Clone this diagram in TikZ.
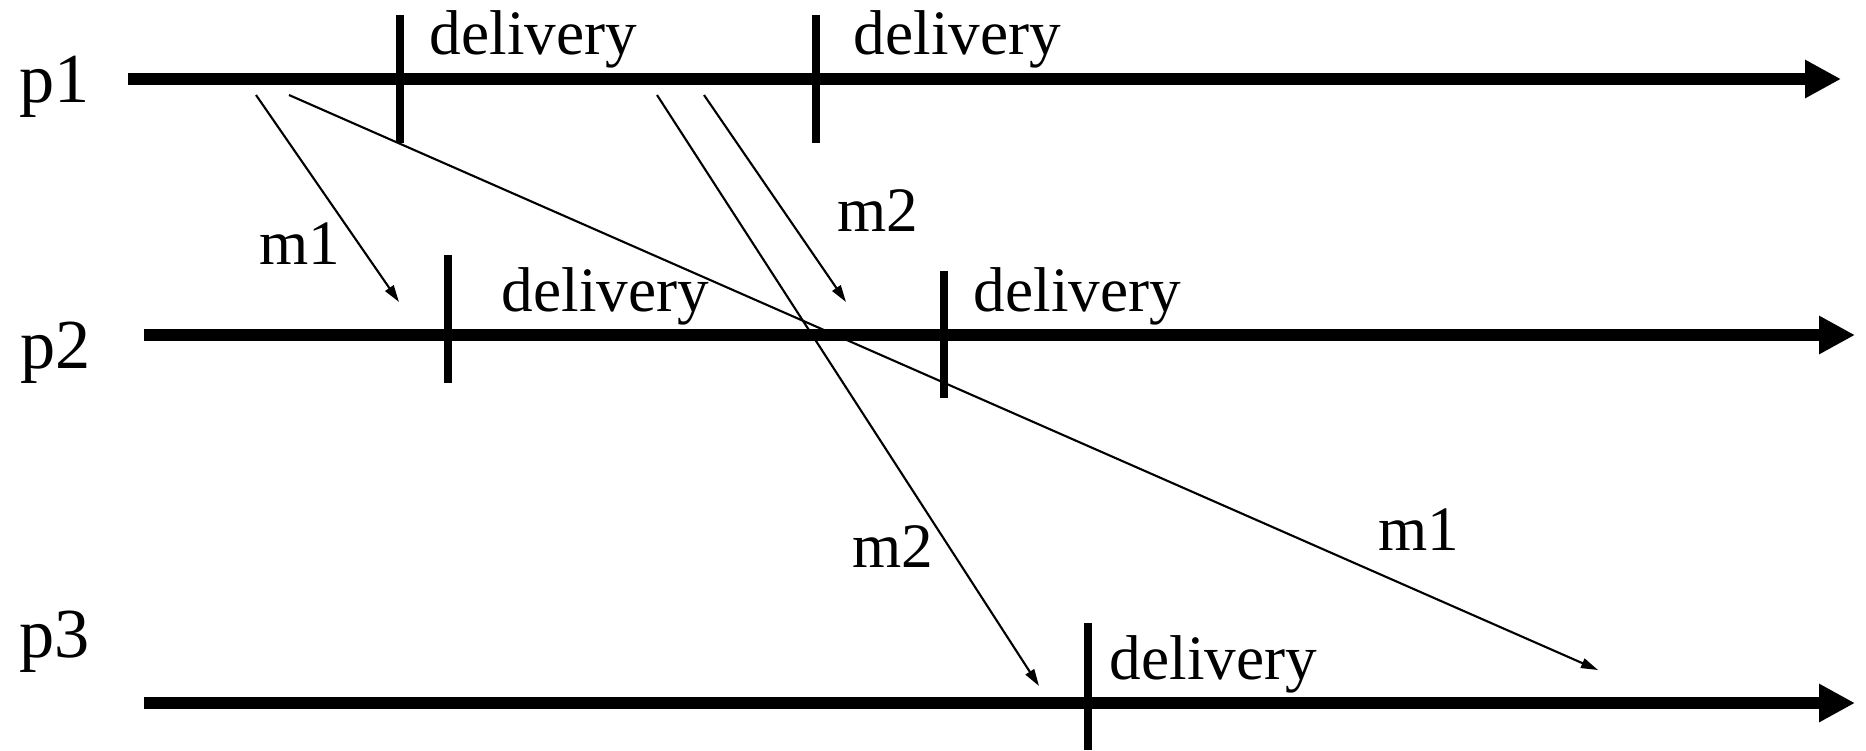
\documentclass[tikz,border=0pt]{standalone}
\usepackage{fontspec}
\setmainfont{Liberation Serif}
\usetikzlibrary{arrows.meta}

\tikzset{
  procline/.style={line width=3.4pt,-{Triangle[length=0.36cm,width=0.36cm]}},
  delivtick/.style={line width=2.4pt},
  msg/.style={line width=0.6pt,-{Triangle[length=0.17cm,width=0.1cm]}},
  evtxt/.style={inner sep=0pt,anchor=base west,font=\fontsize{18}{20}\selectfont},
  proctxt/.style={inner sep=0pt,anchor=base west,font=\fontsize{20}{24}\selectfont},
}

\begin{document}
\begin{tikzpicture}
  \useasboundingbox (0,0) rectangle (18.66,-7.5);
  % processes and their time lines
  \node[proctxt] (p1) at (0.19,-1.02) {p1};
  \node[proctxt] (p2) at (0.20,-3.68) {p2};
  \node[proctxt] (p3) at (0.19,-6.57) {p3};
  \foreach \n/\y/\xs/\xe in {1/-0.79/1.28/18.41, 2/-3.35/1.44/18.55, 3/-7.03/1.44/18.55} {
    \coordinate (t\n s) at (\xs,\y);
    \coordinate (t\n e) at (\xe,\y);
    \draw[procline] (t\n s) -- (t\n e);
  }
  % delivery events
  \foreach \x/\ya/\yb in {4.00/-0.15/-1.43, 8.16/-0.15/-1.43, 4.48/-2.55/-3.83,
                          9.44/-2.71/-3.98, 10.88/-6.23/-7.5} {
    \draw[delivtick] (\x,\ya) -- (\x,\yb);
  }
  \node[evtxt] (d1) at (4.29,-0.54) {delivery};
  \node[evtxt] (d2) at (8.53,-0.54) {delivery};
  \node[evtxt] (d3) at (5.01,-3.11) {delivery};
  \node[evtxt] (d4) at (9.73,-3.11) {delivery};
  \node[evtxt] (d5) at (11.09,-6.79) {delivery};
  % messages
  \coordinate (m1as) at (2.56,-0.95);
  \coordinate (m1ae) at (3.99,-3.02);
  \coordinate (m1bs) at (2.89,-0.95);
  \coordinate (m1be) at (15.98,-6.70);
  \coordinate (m2as) at (7.04,-0.95);
  \coordinate (m2ae) at (8.46,-3.02);
  \coordinate (m2bs) at (6.57,-0.95);
  \coordinate (m2be) at (10.39,-6.86);
  \draw[msg] (m1as) -- (m1ae);
  \draw[msg] (m1bs) -- (m1be);
  \draw[msg] (m2as) -- (m2ae);
  \draw[msg] (m2bs) -- (m2be);
  \node[evtxt] (l1a) at (2.59,-2.64) {m1};
  \node[evtxt] (l2a) at (8.37,-2.31) {m2};
  \node[evtxt] (l2b) at (8.52,-5.67) {m2};
  \node[evtxt] (l1b) at (13.78,-5.50) {m1};
\end{tikzpicture}
\end{document}
